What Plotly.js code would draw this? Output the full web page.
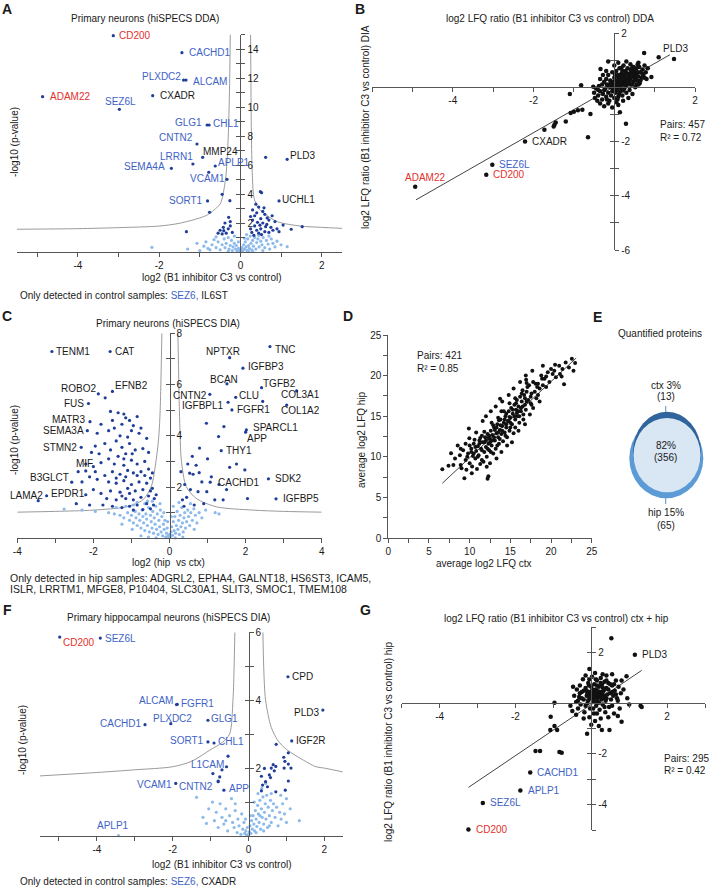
<!DOCTYPE html>
<html><head><meta charset="utf-8">
<script src="https://cdn.plot.ly/plotly-3.0.1.min.js"></script>
<style>html,body{margin:0;padding:0;background:#fff}#c{width:709px;height:888px}</style>
</head><body><div id="c"></div>
<script>
// ================= DATA =================
// ---- Panel A: Primary neurons (hiSPECS DDA) volcano ----
const A_xTicks = [-4,-2,0,2];
const A_xTickText = ['-4','-2','0','2'];
const A_xMinor = [-5,-3,-1,1];
const A_yTicks = [2,4,6,8,10,12,14];
const A_yTickText = ['2','4','6','8','10','12','14'];
const A_yMinor = [0,1,3,5,7,9,11,13,15];
const A_curveL = [[-5.5,1.57],[-4,1.61],[-3,1.68],[-2,1.79],[-1.5,1.98],[-1.0,2.35],[-0.82,2.55],[-0.65,2.9],[-0.49,3.36],[-0.37,4.97],[-0.33,6.2],[-0.3,8.0],[-0.27,11],[-0.25,15]];
const A_curveR = [[0.25,15],[0.26,11],[0.27,8.0],[0.29,5.5],[0.33,3.8],[0.42,3.1],[0.58,2.67],[0.91,2.09],[1.48,1.79],[2.0,1.7],[2.5,1.63]];
const A_sig = [[0.62,6.53],[-0.45,3.98],[-0.26,3.54],[-0.76,2.74],[-1.33,1.40],[0.49,4.16],[0.52,4.09],[1.05,1.86],[1.25,1.57],[1.52,1.75],[-0.29,2.39],[-0.25,2.10],[-0.41,1.47],[-0.33,5.01],
 [0.30,2.90],[0.35,2.50],[0.40,2.70],[0.45,3.10],[0.50,2.30],[0.55,2.00],[0.60,2.60],[0.65,1.90],[0.70,2.20],[0.75,1.70],[0.80,1.50],[0.35,1.80],[0.40,1.50],[0.45,1.30],[0.50,1.60],[0.30,2.20],[0.25,1.60],[0.60,1.40],[0.70,1.35],[0.85,2.10],[0.90,1.60],[0.55,2.80],[0.42,2.05],[0.62,1.75],[0.38,3.30],[0.28,1.35],[0.48,1.85],[0.66,2.35],[0.78,2.50],[0.95,1.40],[0.33,1.15],[0.52,1.20],[0.25,2.45],[0.58,3.05],
 [-0.35,1.30],[-0.30,1.60],[-0.20,1.35],[-0.45,1.25],[-0.25,1.80],[-0.50,1.50],[-0.38,2.00],[-0.42,1.70],[-0.55,1.30]];
const A_ns = [[-2.18,0.32],[-1.07,0.60],[1.15,0.37],[-1.30,0.20],[-0.90,0.40],[-0.80,0.25],[-0.70,0.50],[-0.60,0.30],[-0.55,0.70],[-0.50,0.15],[-0.45,0.50],[-0.40,0.90],[-0.38,0.30],[-0.35,0.60],[-0.30,1.00],[-0.28,0.20],[-0.25,0.45],[-0.22,0.80],[-0.20,0.10],[-0.18,0.35],[-0.15,0.60],[-0.12,0.20],[-0.10,0.45],[-0.08,0.05],[-0.05,0.25],[-0.03,0.10],[0.00,0.02],[0.02,0.15],[0.04,0.30],[0.06,0.08],[0.08,0.50],[0.10,0.20],[0.12,0.70],[0.14,0.35],[0.16,0.10],[0.18,0.90],[0.20,0.45],[0.22,0.25],[0.24,1.10],[0.26,0.60],[0.28,0.15],[0.30,0.80],[0.32,0.40],[0.35,1.00],[0.38,0.20],[0.40,0.65],[0.43,0.90],[0.46,0.35],[0.50,0.75],[0.53,0.50],[0.56,1.00],[0.60,0.30],[0.64,0.80],[0.68,0.55],[0.72,0.20],[0.76,0.90],[0.80,0.60],[0.85,0.35],[0.90,0.75],[1.00,0.50],[-0.65,0.85],[-0.75,0.15],[-1.00,0.10],[-0.60,1.05],[0.10,0.95],[-0.05,0.70],[0.30,0.05],[0.15,1.20],[-0.15,1.10],[0.45,1.15],[0.20,0.05],[-0.30,0.05],[0.55,0.10],[0.70,1.10],[-0.85,0.70]];
const A_names = ['CD200','CACHD1','PLXDC2','ALCAM','CXADR','ADAM22','SEZ6L','GLG1','CHL1','CNTN2','MMP24','LRRN1','APLP1','SEMA4A','VCAM1','SORT1','PLD3','UCHL1'];
const A_labPts = [[-3.13,14.92],[-1.44,13.75],[-1.40,11.86],[-1.34,11.86],[-2.16,10.78],[-4.87,10.71],[-2.98,9.84],[-0.82,8.76],[-0.77,8.76],[-1.07,7.45],[-0.93,6.53],[-1.17,6.07],[-0.62,5.93],[-1.70,5.77],[-0.78,5.50],[-0.81,3.52],[1.15,6.39],[0.95,3.52]];
const A_labCol = ['red','blue','blue','blue','black','red','blue','blue','blue','blue','black','blue','blue','blue','blue','blue','black','black'];
const A_labOff = [[4,0,'left'],[5,0,'left'],[-1,4,'right'],[5,-1,'left'],[5,0,'left'],[5,0,'left'],[1,8,'center'],[-3,2,'right'],[2,1,'left'],[-2,6,'right'],[-2,6,'left'],[2,7,'right'],[1,4,'left'],[-4,2,'right'],[-1,-6,'center'],[-3,0,'right'],[1,4,'left'],[1,1,'left']];

// ---- Panel B: DDA vs DIA ratio scatter ----
const B_xTicks = [-4,-2,2];
const B_xTickText = ['-4','-2','2'];
const B_xMinor = [-6,-5,-3,-1,1];
const B_yTicks = [-6,-4,-2,2];
const B_yTickText = ['-6','-4','-2','2'];
const B_yMinor = [-5,-3,-1,1];
const B_fit = [[-4.91,-4.15],[1.38,1.20]];
const B_pts = [[-1.10,-0.25],[-0.82,0.07],[-0.34,0.67],[0.74,1.26],[1.10,1.11],[0.92,0.38],[0.14,-0.92],[0.29,-1.35],[-0.65,-1.84],[-0.59,-0.99],[-0.79,-0.83],[-0.90,-0.85],[-1.00,-0.90],[-1.08,-0.95],[-1.20,-1.26],[-1.45,-1.30],[-1.50,-1.45],[-1.48,-1.38],[-1.73,-1.57],[-0.15,0.95],[0.45,0.75],[0.60,0.90],
 [-0.50,-0.20],[-0.45,-0.05],[-0.40,-0.30],[-0.38,0.05],[-0.35,-0.15],[-0.30,-0.45],[-0.30,0.10],[-0.28,-0.25],[-0.25,0.20],[-0.22,-0.05],[-0.20,-0.35],[-0.20,0.30],[-0.18,0.10],[-0.15,-0.20],[-0.15,0.45],[-0.12,-0.50],[-0.10,0.00],[-0.10,0.25],[-0.08,-0.30],[-0.05,0.15],[-0.05,0.55],[-0.03,-0.10],[0.00,0.35],[0.00,-0.40],[0.02,0.05],[0.03,-0.20],[0.05,0.25],[0.05,0.60],[0.07,-0.05],[0.08,0.40],[0.10,0.10],[0.10,-0.35],[0.12,0.30],[0.13,0.70],[0.15,0.00],[0.15,-0.15],[0.17,0.20],[0.18,0.50],[0.20,-0.30],[0.20,0.35],[0.22,0.10],[0.23,0.80],[0.25,-0.05],[0.25,0.45],[0.27,0.25],[0.28,0.60],[0.30,0.05],[0.30,-0.20],[0.32,0.35],[0.33,0.70],[0.35,0.15],[0.36,0.50],[0.38,-0.10],[0.40,0.30],[0.40,0.85],[0.42,0.55],[0.44,0.10],[0.45,0.40],[0.47,0.65],[0.48,0.20],[0.50,0.50],[0.52,0.00],[0.53,0.35],[0.55,0.70],[0.57,0.25],[0.58,0.55],[0.60,0.40],[0.62,0.75],[0.63,0.15],[0.65,0.55],[0.68,0.35],[0.70,0.65],[0.72,0.45],[0.75,0.80],[0.78,0.55],[0.80,0.30],[0.83,0.70],[-0.42,-0.50],[-0.35,-0.60],[-0.25,-0.70],[-0.15,-0.60],[-0.05,-0.75],[0.05,-0.55],[0.10,-0.65],[0.22,-0.50],[-0.52,0.02],[-0.48,-0.40],[0.35,-0.40],[0.45,-0.25],[0.55,0.10],[-0.20,0.60],[0.00,0.80],[0.10,0.90],[0.30,0.95],[0.15,0.05],[0.18,-0.05],[0.08,0.15],[0.12,0.22],[0.20,0.18],[0.25,0.12],[0.05,0.08],[-0.02,0.20],[0.28,0.30],[0.35,0.28],[0.16,0.38],[-0.08,0.05],[0.22,-0.12],[0.40,0.10],
 [0.00,0.00],[0.05,-0.12],[0.10,0.45],[0.15,0.28],[0.20,0.60],[0.25,0.35],[0.30,0.52],[0.35,0.40],[0.40,0.65],[0.45,0.55],[0.50,0.30],[0.55,0.45],[-0.10,0.12],[-0.15,0.05],[-0.25,-0.10],[-0.05,-0.15],[0.12,-0.25],[0.28,0.10],[0.38,0.22],[0.48,0.75],[0.58,0.85],[0.65,0.25],[-0.35,0.30],[-0.40,-0.10],[0.02,0.45],[0.18,0.72],[0.33,0.15],[0.43,0.48],[0.53,0.60],[0.60,0.10],[-0.18,-0.45],[0.70,0.50],[0.75,0.35],[0.08,-0.45],[-0.28,0.45]];
const B_names = ['PLD3','ADAM22','SEZ6L','CD200','CXADR'];
const B_labPts = [[1.48,1.04],[-4.93,-3.67],[-3.02,-2.86],[-3.17,-3.23],[-2.21,-2.00]];
const B_labCol = ['black','red','blue','red','black'];
const B_labOff = [[1,11,'center'],[10,9,'center'],[5,0,'left'],[5,0,'left'],[5,0,'left']];

// ---- Panel C: Primary neurons (hiSPECS DIA) hip vs ctx volcano ----
const C_xTicks = [-4,-2,0,2,4];
const C_xTickText = ['-4','-2','0','2','4'];
const C_xMinor = [-3,-1,1,3];
const C_yTicks = [2,4,6,8];
const C_yTickText = ['2','4','6','8'];
const C_yMinor = [0,1,3,5,7];
const C_curveL = [[-4,1.02],[-3,1.05],[-2,1.1],[-1.14,1.23],[-0.7,1.5],[-0.48,2.02],[-0.35,3.06],[-0.28,4.0],[-0.245,5.0],[-0.22,6.5],[-0.2,8]];
const C_curveR = [[0.22,8],[0.24,6.5],[0.26,5],[0.28,4],[0.31,3.06],[0.44,2.02],[0.7,1.56],[1.23,1.23],[2.2,1.1],[3,1.05],[4,1.02]];
const C_sig = [[-1.69,5.48],[-1.55,4.95],[-1.35,4.90],[-1.20,4.85],[-1.15,4.70],[-1.05,4.60],[-0.85,4.75],[-0.95,4.40],[-1.25,4.45],[-1.45,4.30],[-1.60,4.20],[-1.80,4.45],[-1.90,4.10],[-1.00,4.20],[-0.80,4.10],[-1.30,4.00],[-1.10,3.95],[-1.40,3.80],[-1.70,3.70],[-1.95,3.60],[-2.05,3.35],[-1.85,3.30],[-1.55,3.45],[-1.25,3.55],[-1.05,3.70],[-0.90,3.45],[-0.70,3.50],[-1.15,3.30],[-1.35,3.20],[-1.60,3.10],[-1.80,2.95],[-2.00,2.80],[-1.45,2.90],[-1.20,2.85],[-1.00,3.05],[-0.85,2.90],[-0.65,3.00],[-0.55,2.70],[-0.75,2.60],[-0.95,2.55],[-1.10,2.65],[-1.30,2.50],[-1.50,2.60],[-1.70,2.45],[-1.90,2.30],[-2.10,2.40],[-2.30,2.20],[-1.60,2.20],[-1.40,2.15],[-1.20,2.25],[-1.00,2.10],[-0.80,2.20],[-0.60,2.15],[-0.50,2.35],[-0.45,1.95],[-0.70,1.90],[-0.90,1.85],[-1.10,1.95],[-1.30,1.80],[-1.55,1.85],[-1.80,1.75],[-2.00,1.90],[-2.20,1.70],[-1.65,1.55],[-1.40,1.50],[-1.15,1.55],[-0.95,1.50],[-0.75,1.60],[-0.55,1.65],[-0.40,1.55],[-0.42,1.30],[-0.60,1.35],[-0.85,1.30],[-1.05,1.25],[-1.25,1.20],[-1.50,1.25],[-2.10,1.30],[-2.45,1.35],[-1.75,1.30],[-0.50,1.15],[-0.70,1.12],[-0.95,1.10],[-1.20,3.10],[-0.98,3.30],[-0.60,3.90],[-0.55,3.35],[-1.50,4.60],[-0.75,4.30],[-2.20,2.90],[-2.40,2.60],[-1.15,2.40],[-0.85,2.45],[-1.40,2.35],[-0.65,2.45],[-1.95,2.60],[-1.25,1.65],[-1.05,1.75],[-0.50,1.85],[-0.45,2.55],[-0.35,1.70],
 [2.45,5.34],[0.97,4.49],[1.43,4.36],[1.29,3.97],[0.79,3.52],[0.53,2.54],[0.62,2.50],[0.78,2.56],[1.58,2.77],[1.76,2.90],[1.98,2.67],[0.75,1.82],[0.98,1.82],[1.19,1.50],[1.41,1.50],[0.34,1.50],[0.45,1.60],[0.55,1.90],[0.40,2.10],[0.30,2.60],[0.85,2.20],[1.10,2.40],[0.65,1.30],[0.90,1.35],[0.38,1.25],[1.30,2.10],[0.60,3.20],[1.00,3.10],[0.48,2.90],[1.50,1.90],[2.05,1.55],[0.70,2.85]];
const C_ns = [[-2.77,1.14],[-1.95,1.05],[-1.60,1.00],[-1.45,0.95],[-1.30,0.90],[-1.20,0.80],[-1.10,1.00],[-1.05,0.70],[-1.00,0.90],[-0.95,0.60],[-0.90,1.05],[-0.88,0.80],[-0.85,0.50],[-0.80,0.95],[-0.78,0.70],[-0.75,0.40],[-0.72,1.10],[-0.70,0.85],[-0.68,0.60],[-0.65,0.30],[-0.62,0.95],[-0.60,0.75],[-0.58,0.50],[-0.55,1.20],[-0.53,0.25],[-0.50,0.90],[-0.48,0.65],[-0.46,0.40],[-0.44,1.05],[-0.42,0.20],[-0.40,0.80],[-0.38,0.55],[-0.36,1.25],[-0.34,0.35],[-0.32,0.95],[-0.30,0.15],[-0.28,0.70],[-0.26,0.45],[-0.24,1.10],[-0.22,0.25],[-0.20,0.85],[-0.18,0.10],[-0.16,0.55],[-0.14,0.35],[-0.12,0.70],[-0.10,0.05],[-0.08,0.20],[-0.06,0.40],[-0.04,0.10],[-0.02,0.03],[0.00,0.15],[0.02,0.05],[0.04,0.25],[0.06,0.45],[0.08,0.12],[0.10,0.65],[0.12,0.30],[0.14,0.85],[0.16,0.20],[0.18,0.50],[0.20,1.05],[0.22,0.35],[0.24,0.70],[0.26,0.15],[0.28,0.90],[0.30,0.45],[0.32,1.20],[0.34,0.60],[0.36,0.25],[0.38,0.80],[0.40,1.00],[0.42,0.40],[0.45,0.65],[0.48,1.10],[0.50,0.85],[0.53,0.50],[0.56,1.00],[0.60,0.70],[0.64,1.15],[0.68,0.90],[0.72,0.60],[0.78,1.00],[0.85,0.80],[0.95,1.10],[1.20,1.00],[1.30,0.95],[-1.40,1.20],[-1.15,1.25],[-0.95,1.30],[-0.65,1.35],[-0.45,1.45],[0.55,1.35],[0.25,1.40],[-0.25,1.35],[-0.55,0.05],[-0.75,0.10],[-0.35,0.02],[0.15,0.02],[0.35,0.05],[-0.85,1.40],[-2.30,1.10],[-0.98,0.35],[0.65,0.35],[-1.25,0.55],[-0.58,1.45],[0.10,1.25],[-0.15,1.00],[-0.05,0.65],[0.05,0.85]];
const C_names = ['TENM1','CAT','ROBO2','EFNB2','FUS','MATR3','SEMA3A','STMN2','MIF','B3GLCT','EPDR1','LAMA2','NPTXR','TNC','IGFBP3','BCAN','TGFB2','COL3A1','COL1A2','CNTN2','CLU','IGFBPL1','FGFR1','SPARCL1','APP','THY1','CACHD1','SDK2','IGFBP5'];
const C_labPts = [[-3.09,7.29],[-1.56,7.29],[-1.87,5.64],[-1.50,5.73],[-2.13,5.26],[-2.09,4.55],[-2.16,4.20],[-2.32,3.55],[-2.20,2.63],[-2.57,2.19],[-3.23,1.66],[-3.45,1.47],[1.58,7.05],[2.64,7.48],[1.93,6.64],[1.51,6.03],[2.42,5.88],[3.34,5.75],[3.08,5.20],[1.06,5.62],[1.74,5.50],[1.54,5.31],[1.64,5.01],[2.02,4.23],[2.00,4.14],[1.36,3.42],[1.07,2.19],[2.60,2.32],[2.80,1.54]];
const C_labOff = [[2,0,'left'],[3,0,'left'],[0,5,'right'],[1,6,'left'],[-2,0,'right'],[-2,2,'right'],[-1,0,'right'],[-2,0,'right'],[-1,7,'center'],[-1,5,'right'],[2,2,'left'],[7,5,'right'],[-7,6,'center'],[3,-3,'left'],[3,2,'left'],[-3,4,'center'],[-1,4,'left'],[4,-4,'center'],[14,-5,'center'],[-1,-1,'right'],[1,2,'left'],[-2,-3,'right'],[3,0,'left'],[5,2,'left'],[-1,-6,'left'],[3,0,'left'],[6,0,'left'],[5,0,'left'],[5,0,'left']];

// ---- Panel D: average log2 LFQ hip vs ctx ----
const D_ticks = [0,5,10,15,20,25];
const D_tickText = ['0','5','10','15','20','25'];
const D_minor = [2.5,7.5,12.5,17.5,22.5];
const D_fit = [[6.64,6.74],[23.09,22.16]];
const D_pts = [[6.64,8.47],[7.71,10.44],[8.53,11.38],[9.35,7.36],[10.26,7.97],[12.10,8.79],[13.74,17.14],[16.94,19.48],[17.0,19.1],[19.40,19.89],[20.50,21.33],[21.1,20.2],[21.3,19.9],[21.60,18.95],[22.56,22.07],[22.96,21.54],[22.76,20.59],[9.96,12.29],[8.90,9.00],
 [8.2,9.8],[8.8,10.2],[9.2,10.8],[9.5,9.6],[9.8,10.4],[10.0,9.2],[10.2,11.0],[10.4,10.1],[10.5,11.6],[10.7,9.8],[10.8,10.7],[11.0,11.3],[11.1,10.2],[11.2,12.0],[11.4,11.0],[11.5,9.6],[11.6,11.8],[11.8,10.6],[11.9,12.4],[12.0,11.2],[12.1,10.0],[12.2,12.8],[12.3,11.6],[12.4,10.8],[12.5,12.2],[12.6,13.2],[12.7,11.4],[12.8,12.7],[12.9,10.4],[13.0,13.6],[13.1,12.0],[13.2,11.0],[13.3,12.9],[13.4,14.0],[13.5,12.4],[13.6,11.6],[13.7,13.3],[13.8,14.6],[13.9,12.8],[14.0,13.8],[14.1,11.9],[14.2,14.2],[14.3,13.0],[14.4,15.0],[14.5,13.6],[14.6,12.4],[14.7,14.4],[14.8,15.6],[14.9,13.2],[15.0,14.8],[15.1,16.0],[15.2,14.0],[15.3,15.3],[15.4,12.9],[15.5,16.4],[15.6,14.6],[15.7,15.8],[15.8,17.0],[15.9,15.0],[16.0,16.2],[16.1,14.2],[16.2,17.4],[16.3,15.6],[16.4,16.8],[16.5,18.2],[16.6,15.2],[16.7,17.6],[16.8,16.4],[17.0,18.0],[17.2,17.0],[17.3,18.8],[17.5,16.6],[17.6,17.8],[17.8,19.2],[18.0,18.0],[18.2,17.2],[18.4,19.0],[18.6,18.4],[18.8,20.0],[19.0,18.8],[19.2,19.6],[19.6,20.4],[19.8,19.2],[20.0,20.8],[20.2,20.2],[20.6,19.8],[21.0,21.2],[21.4,20.8],[22.2,21.0],
 [9.0,8.6],[9.6,8.4],[10.3,8.8],[10.9,8.5],[11.3,9.1],[11.7,9.4],[12.5,9.2],[12.2,7.3],[12.3,7.6],[13.3,9.8],[13.9,10.6],[14.6,11.4],[15.2,11.8],[16.0,13.2],[16.8,14.0],[17.4,15.2],[17.8,16.0],[18.6,16.8],[9.9,13.5],[10.8,13.0],[11.6,14.4],[12.0,15.0],[12.6,15.6],[13.2,16.2],[14.0,16.8],[14.8,17.6],[15.4,18.4],[16.2,19.2],[16.9,20.0],[17.7,20.6],[19.0,21.2],[14.5,15.3],[13.6,14.5],[12.9,13.9],[11.8,13.1],[14.9,16.6],[15.6,17.2],[13.1,13.3],[12.4,12.6],[11.3,12.3],[10.6,12.1],[9.5,11.6],[8.9,11.0],[8.0,9.0],[7.4,8.9],
 [10.5,10.4],[11.0,10.0],[11.5,10.8],[12.0,12.0],[12.5,11.8],[13.0,12.4],[13.5,13.0],[14.0,13.2],[14.5,14.0],[15.0,14.2],[15.5,15.0],[16.0,15.6],[16.5,16.2],[17.0,16.8],[17.5,17.4],[11.2,11.6],[11.8,11.8],[12.3,12.3],[12.8,12.0],[13.3,13.6],[13.8,13.9],[14.3,14.6],[14.8,14.4],[15.3,15.8],[15.8,15.4],[16.3,16.0],[16.8,17.2],[10.2,10.6],[10.7,11.2],[9.7,10.0],[13.5,14.8],[12.7,14.2],[14.2,15.6],[15.7,16.6],[16.4,17.8],[17.1,18.6],[18.1,19.0],[18.9,19.6],[12.6,10.6],[13.4,11.4],[14.4,12.6],[15.6,13.6],[16.6,14.6],[17.6,16.4],[18.4,17.6],[10.0,11.4],[11.5,12.6],[13.9,15.6],[15.0,13.6],[16.1,15.0],[12.2,11.0],[13.7,12.2],[14.9,14.9],[16.9,15.8],[19.4,18.6],[20.4,20.6],[21.8,21.6],[18.3,18.6]];

// ---- Panel E: Venn counts ----
const E_labels = ['ctx 3%','(13)','82%','(356)','hip 15%','(65)'];

// ---- Panel F: Primary hippocampal neurons (hiSPECS DIA) volcano ----
const F_xTicks = [-4,-2,0,2];
const F_xTickText = ['-4','-2','0','2'];
const F_xMinor = [-5,-3,-1,1];
const F_yTicks = [2,4,6];
const F_yTickText = ['2','4','6'];
const F_yMinor = [0,1,3,5];
const F_curveL = [[-5.5,1.77],[-4,1.87],[-3,1.95],[-2,2.04],[-1.5,2.2],[-1.02,2.53],[-0.7,2.75],[-0.5,3.0],[-0.41,4.0],[-0.38,5.0],[-0.36,6.0]];
const F_curveR = [[0.38,6.0],[0.40,5.0],[0.45,4.0],[0.6,3.2],[0.77,2.82],[1.0,2.55],[1.5,2.2],[1.78,2.04],[2.0,2.0],[2.48,1.89]];
const F_sig = [[0.42,1.99],[0.34,1.76],[0.37,1.50],[0.34,1.33],[0.55,1.80],[0.60,2.00],[0.68,1.92],[0.65,2.10],[0.72,2.05],[0.58,1.72],[0.50,1.45],[0.72,1.30],[0.97,1.35],[1.05,1.62],[0.94,2.00],[1.05,2.12],[1.12,2.00],[0.93,2.32],[0.96,2.20],[0.73,2.70],[1.05,2.45],[-0.54,2.35],[-0.94,1.84],[-0.76,1.74],[-0.80,1.60],[-0.70,1.95],[0.45,1.60]];
const F_ns = [[-1.37,1.14],[-1.20,0.55],[-1.11,0.37],[-1.05,0.80],[-0.95,1.00],[-0.90,0.45],[-0.85,0.70],[-0.80,0.25],[-0.75,0.95],[-0.70,0.55],[-0.65,0.35],[-0.60,0.80],[-0.55,0.15],[-0.50,0.60],[-0.45,1.10],[-0.42,0.40],[-0.38,0.25],[-0.35,0.75],[-0.30,0.10],[-0.28,0.50],[-0.25,0.30],[-0.20,0.05],[-0.18,0.65],[-0.15,0.20],[-0.12,0.40],[-0.10,0.08],[-0.07,0.15],[-0.05,0.03],[-0.03,0.25],[0.00,0.05],[0.02,0.12],[0.04,0.30],[0.06,0.08],[0.08,0.45],[0.10,0.20],[0.12,0.60],[0.14,0.35],[0.16,0.15],[0.18,0.75],[0.20,0.50],[0.22,0.28],[0.24,0.90],[0.26,0.65],[0.28,0.40],[0.30,1.05],[0.32,0.20],[0.34,0.80],[0.36,0.55],[0.38,1.15],[0.40,0.35],[0.42,0.70],[0.44,0.95],[0.46,0.50],[0.48,1.20],[0.50,0.25],[0.52,0.85],[0.55,0.60],[0.58,1.05],[0.60,0.40],[0.63,0.75],[0.66,0.95],[0.70,0.55],[0.74,0.85],[0.78,0.30],[0.82,0.70],[0.86,0.50],[0.90,0.95],[0.95,0.65],[1.00,0.40],[1.10,0.80],[1.34,0.45],[0.15,1.00],[0.25,1.25],[0.05,0.60],[-0.08,0.50],[0.20,0.10],[0.30,0.60],[0.40,0.15],[0.55,0.30],[-0.60,0.45],[-0.35,0.95],[0.35,1.40],[0.45,1.55],[0.60,1.25],[0.85,1.20],[1.00,1.10]];
const F_names = ['CD200','SEZ6L','CPD','ALCAM','FGFR1','PLXDC2','CACHD1','GLG1','PLD3','SORT1','CHL1','IGF2R','L1CAM','VCAM1','CNTN2','APP','APLP1'];
const F_labPts = [[-4.98,5.86],[-3.91,5.83],[1.04,4.69],[-1.90,3.87],[-1.88,3.88],[-2.05,3.31],[-2.73,3.28],[-1.07,3.41],[1.96,3.71],[-1.07,2.77],[-0.91,2.74],[1.14,2.80],[-0.58,2.04],[-1.92,1.55],[-0.80,1.62],[-0.65,1.35],[-3.43,0.01]];
const F_labCol = ['red','blue','black','blue','blue','blue','blue','blue','black','blue','blue','black','blue','blue','blue','blue','blue'];
const F_labOff = [[1,-5,'left'],[3,0,'left'],[2,0,'left'],[-1,4,'right'],[2,1,'left'],[2,5,'center'],[-1,1,'right'],[1,2,'left'],[-2,-2,'right'],[-2,1,'right'],[2,1,'left'],[2,0,'left'],[-1,2,'right'],[-2,-1,'right'],[-3,-5,'right'],[3,2,'left'],[-5,10,'center']];
const F_labLight = [false,false,false,false,false,false,false,false,false,false,false,false,false,false,false,false,true];

// ---- Panel G: ctx+hip vs hip ratio scatter ----
const G_xTicks = [-4,-2,2];
const G_xTickText = ['-4','-2','2'];
const G_xMinor = [-5,-3,-1,1,3];
const G_yTicks = [-4,-2,2];
const G_yTickText = ['-4','-2','2'];
const G_yMinor = [-5,-3,-1,1,3];
const G_fit = [[-3.24,-3.32],[1.33,1.30]];
const G_pts = [[-1.47,-1.88],[-1.35,-1.88],[-0.84,-1.92],[-0.78,-1.95],[-1.08,-1.05],[-0.97,-0.90],[-0.90,-1.05],[-1.07,-0.53],[-0.97,0.02],[1.30,-0.10],[1.33,-0.15],[0.93,1.07],[0.80,-0.73],[0.28,-1.05],[0.48,-1.05],[-0.11,-1.20],[0.53,2.57],[-0.05,1.35],[0.55,1.15],[0.40,1.10],[0.85,0.55],[1.00,-0.05],[0.95,0.20],[0.70,-0.50],[-0.40,-0.45],[-0.55,-0.10],[0.20,-0.90],[0.00,-0.85],
 [-0.45,0.30],[-0.40,0.05],[-0.38,0.55],[-0.35,-0.20],[-0.32,0.25],[-0.30,0.70],[-0.28,-0.05],[-0.25,0.45],[-0.22,0.95],[-0.20,0.15],[-0.18,-0.35],[-0.15,0.60],[-0.12,0.30],[-0.10,0.00],[-0.08,0.80],[-0.05,0.45],[-0.03,-0.20],[0.00,0.20],[0.00,0.65],[0.02,1.05],[0.04,0.05],[0.05,0.40],[0.07,-0.40],[0.08,0.75],[0.10,0.25],[0.12,0.55],[0.13,-0.10],[0.15,0.90],[0.17,0.35],[0.18,0.05],[0.20,0.65],[0.22,-0.25],[0.24,0.45],[0.25,1.00],[0.27,0.15],[0.28,0.75],[0.30,-0.05],[0.32,0.50],[0.34,0.30],[0.35,0.85],[0.37,-0.35],[0.38,0.10],[0.40,0.60],[0.42,0.35],[0.45,0.80],[0.47,-0.15],[0.50,0.40],[0.52,0.15],[0.55,0.70],[0.58,0.30],[0.60,-0.40],[0.62,0.50],[0.65,0.90],[0.68,0.20],[0.72,0.65],[0.75,-0.20],[0.78,0.40],[0.80,0.90],[-0.50,-0.30],[-0.48,0.65],[-0.20,-0.60],[-0.05,-0.55],[0.10,-0.70],[0.25,-0.60],[0.45,-0.55],[-0.15,1.10],[0.10,1.20],[0.30,1.15],[0.05,0.10],[0.08,0.35],[0.15,0.20],[0.18,0.48],[-0.02,0.30],[-0.08,0.12],[0.22,0.28],[0.12,0.05],[0.03,0.55],[0.28,0.38],[-0.12,0.50],[0.35,0.55],[0.20,0.02],[-0.25,0.20],[0.40,0.20],[-0.06,0.70],[0.15,0.70],[0.30,0.62],
 [0.00,0.40],[0.05,0.25],[0.10,0.50],[0.15,0.45],[0.20,0.30],[0.25,0.25],[-0.05,0.25],[-0.10,0.40],[0.30,0.45],[0.35,0.20],[0.45,0.55],[0.50,0.75],[-0.20,0.50],[-0.30,0.40],[0.25,0.80],[0.12,0.95],[-0.05,0.95],[0.40,0.90],[0.55,0.45],[0.65,0.35],[0.60,0.75],[-0.15,-0.10],[0.05,-0.20],[0.35,-0.15],[0.55,-0.10],[0.15,-0.40],[-0.35,0.10],[0.70,0.10]];
const G_names = ['PLD3','CACHD1','APLP1','SEZ6L','CD200'];
const G_labPts = [[1.15,1.92],[-1.61,-2.73],[-1.87,-3.44],[-2.86,-3.93],[-3.24,-4.98]];
const G_labCol = ['black','blue','blue','blue','red'];
const G_labOff = [[5,0,'left'],[5,0,'left'],[6,0,'left'],[5,0,'left'],[6,0,'left']];

// ================= RENDER =================
const W = 709, H = 888;
const FONT = 'Liberation Sans, Arial, Helvetica, sans-serif';
const COL = {red:'#E3302B', blue:'#3E63C6', black:'#1a1a1a'};
const DARK = '#1F3E9A', LIGHT = '#8DBAEA', AXC = '#555';
const P = x => x / W;
const Q = y => 1 - y / H;
const xs = a => a.map(p => p[0]);
const ys = a => a.map(p => p[1]);
const zeroPos = (dom, rng) => dom[0] + (0 - rng[0]) / (rng[1] - rng[0]) * (dom[1] - dom[0]);

const traces = [];
function line(arr, xa, ya, color, width, spline) {
  traces.push({type:'scatter', mode:'lines', x:xs(arr), y:ys(arr), xaxis:xa, yaxis:ya,
    line:{color, width, shape: spline ? 'spline' : 'linear', smoothing: 0.8}, hoverinfo:'skip', showlegend:false});
}
function pts(arr, xa, ya, color, size) {
  traces.push({type:'scatter', mode:'markers', x:xs(arr), y:ys(arr), xaxis:xa, yaxis:ya,
    marker:{color, size, line:{width:0}}, hoverinfo:'skip', showlegend:false, cliponaxis:false});
}
const anns = [];
function labels(names, p, cols, offs, xa, ya) {
  names.forEach((n, i) => anns.push({xref:xa, yref:ya, x:p[i][0], y:p[i][1], text:n, showarrow:false,
    xanchor:offs[i][2], yanchor:'middle', xshift:offs[i][0], yshift:offs[i][1],
    font:{family:FONT, size:10, color:COL[cols[i]]}}));
}
function T(text, x, y, o) {
  o = o || {};
  anns.push({xref:'paper', yref:'paper', x:P(x), y:Q(y), text, showarrow:false,
    xanchor:o.xa || 'center', yanchor:'middle', textangle:o.angle || 0,
    font:{family:FONT, size:o.size || 10, color:o.color || '#1a1a1a'}});
}

const baseAx = {showgrid:false, zeroline:false, showline:true, linecolor:AXC, linewidth:1,
  ticks:'outside', ticklen:4, tickcolor:AXC, tickwidth:1, tickfont:{family:FONT, size:10, color:'#1a1a1a'},
  fixedrange:true, tickmode:'array'};
const ax = (o, minorVals) => Object.assign({}, baseAx, o,
  {minor:{tickmode:'array', tickvals:minorVals, ticks:'outside', ticklen:4, tickcolor:AXC, tickwidth:1, showgrid:false}});
const tickOnly = (over, pos, rng, vals, minorVals) => ({overlaying:over, anchor:'free', position:pos, side:'right',
  range:rng, tickmode:'array', tickvals:vals, showticklabels:false, ticks:'inside', ticklen:4,
  tickcolor:AXC, showline:false, showgrid:false, zeroline:false, fixedrange:true,
  minor:{tickmode:'array', tickvals:minorVals, ticks:'inside', ticklen:4, tickcolor:AXC, tickwidth:1, showgrid:false}});

const layout = {width:W, height:H, margin:{l:0, r:0, t:0, b:0}, paper_bgcolor:'#fff', plot_bgcolor:'rgba(0,0,0,0)',
  showlegend:false, font:{family:FONT, size:10, color:'#1a1a1a'}};

// ---- A ----
const A_xd = [P(17), P(342)], A_xr = [-5.5, 2.5], A_yd = [Q(252), Q(34.5)], A_yr = [0, 15];
layout.xaxis = ax({domain:A_xd, range:A_xr, anchor:'y', tickvals:A_xTicks, ticktext:A_xTickText}, A_xMinor);
layout.yaxis = ax({domain:A_yd, range:A_yr, anchor:'free', position:zeroPos(A_xd, A_xr), side:'right', tickvals:A_yTicks, ticktext:A_yTickText}, A_yMinor);
layout.yaxis2 = tickOnly('y', zeroPos(A_xd, A_xr), A_yr, A_yTicks, A_yMinor);
traces.push({type:'scatter', x:[], y:[], xaxis:'x', yaxis:'y2', showlegend:false});
line(A_curveL, 'x', 'y', '#9a9a9a', 1, true);
line(A_curveR, 'x', 'y', '#9a9a9a', 1, true);
pts(A_ns, 'x', 'y', LIGHT, 3.2);
pts(A_sig, 'x', 'y', DARK, 3.2);
pts(A_labPts, 'x', 'y', DARK, 3.2);
labels(A_names, A_labPts, A_labCol, A_labOff, 'x', 'y');
T('<b>A</b>', 7, 9, {size:14});
T('Primary neurons (hiSPECS DDA)', 145, 18);
T('-log10 (p-value)', 14, 142, {angle:-90});
T('log2 (B1 inhibitor C3 vs control)', 212, 277);
T('Only detected in control samples: <span style="color:' + COL.blue + '">SEZ6,</span> IL6ST', 18, 295, {xa:'left'});

// ---- B ----
const B_xd = [P(372), P(695)], B_xr = [-6, 2], B_yd = [Q(250), Q(33)], B_yr = [-6, 2];
layout.xaxis2 = ax({domain:B_xd, range:B_xr, anchor:'free', position:zeroPos(B_yd, B_yr), tickvals:B_xTicks, ticktext:B_xTickText}, B_xMinor);
layout.yaxis3 = ax({domain:B_yd, range:B_yr, anchor:'free', position:zeroPos(B_xd, B_xr), side:'right', tickvals:B_yTicks, ticktext:B_yTickText}, B_yMinor);
layout.yaxis4 = tickOnly('y3', zeroPos(B_xd, B_xr), B_yr, B_yTicks, B_yMinor);
traces.push({type:'scatter', x:[], y:[], xaxis:'x2', yaxis:'y4', showlegend:false});
line(B_fit, 'x2', 'y3', '#444', 1, false);
pts(B_pts, 'x2', 'y3', '#111', 4.5);
pts(B_labPts, 'x2', 'y3', '#111', 4.5);
labels(B_names, B_labPts, B_labCol, B_labOff, 'x2', 'y3');
T('<b>B</b>', 360, 9, {size:14});
T('log2 LFQ ratio (B1 inhibitor C3 vs control) DDA', 550, 18);
T('log2 LFQ ratio (B1 inhibitor C3 vs control) DIA', 365, 127, {angle:-90});
T('Pairs: 457', 658, 124, {xa:'left'});
T('R\u00b2 = 0.72', 658, 137, {xa:'left'});

// ---- C ----
const C_xd = [P(17.3), P(321.7)], C_xr = [-4, 4], C_yd = [Q(538.3), Q(333.3)], C_yr = [0, 8];
layout.xaxis3 = ax({domain:C_xd, range:C_xr, anchor:'y5', tickvals:C_xTicks, ticktext:C_xTickText}, C_xMinor);
layout.yaxis5 = ax({domain:C_yd, range:C_yr, anchor:'free', position:zeroPos(C_xd, C_xr), side:'right', tickvals:C_yTicks, ticktext:C_yTickText}, C_yMinor);
layout.yaxis6 = tickOnly('y5', zeroPos(C_xd, C_xr), C_yr, C_yTicks, C_yMinor);
traces.push({type:'scatter', x:[], y:[], xaxis:'x3', yaxis:'y6', showlegend:false});
line(C_curveL, 'x3', 'y5', '#9a9a9a', 1, true);
line(C_curveR, 'x3', 'y5', '#9a9a9a', 1, true);
pts(C_ns, 'x3', 'y5', LIGHT, 3.2);
pts(C_sig, 'x3', 'y5', DARK, 3.2);
pts(C_labPts, 'x3', 'y5', DARK, 3.2);
labels(C_names, C_labPts, C_names.map(() => 'black'), C_labOff, 'x3', 'y5');
T('<b>C</b>', 7, 316, {size:14});
T('Primary neurons (hiSPECS DIA)', 168, 323);
T('-log10 (p-value)', 14, 440, {angle:-90});
T('log2 (hip\u00a0 vs ctx)', 168, 562);
T('Only detected in hip samples: ADGRL2, EPHA4, GALNT18, HS6ST3, ICAM5,', 8, 577.5, {xa:'left', size:10.5});
T('ISLR, LRRTM1, MFGE8, P10404, SLC30A1, SLIT3, SMOC1, TMEM108', 8, 589, {xa:'left', size:10.5});

// ---- D ----
const D_xd = [P(388.3), P(591.7)], D_yd = [Q(538), Q(335)];
layout.xaxis4 = ax({domain:D_xd, range:[0, 25], anchor:'y7', tickvals:D_ticks, ticktext:D_tickText}, D_minor);
layout.yaxis7 = ax({domain:D_yd, range:[0, 25], anchor:'x4', tickvals:D_ticks, ticktext:D_tickText}, D_minor);
line(D_fit, 'x4', 'y7', '#444', 1, false);
pts(D_pts, 'x4', 'y7', '#111', 4);
T('<b>D</b>', 348, 316, {size:14});
T('Pairs: 421', 415, 355, {xa:'left'});
T('R\u00b2 = 0.85', 415, 368, {xa:'left'});
T('average log2 LFQ ctx', 484, 563);
T('average log2 LFQ hip', 361, 440, {angle:-90});

// ---- E (Venn) ----
layout.shapes = [
  {type:'circle', xref:'paper', yref:'paper', x0:P(629.3), x1:P(703.3), y0:Q(498.3), y1:Q(418), fillcolor:'#5B9BD6', line:{width:0}},
  {type:'circle', xref:'paper', yref:'paper', x0:P(633), x1:P(701), y0:Q(491.7), y1:Q(411.7), fillcolor:'#2F659C', line:{width:0}},
  {type:'circle', xref:'paper', yref:'paper', x0:P(633.5), x1:P(700.5), y0:Q(492.2), y1:Q(418), fillcolor:'#D9E7F5', line:{width:0}},
  {type:'line', xref:'paper', yref:'paper', x0:P(665.7), x1:P(665.7), y0:Q(406), y1:Q(412), line:{color:'#5B8FC8', width:1}},
  {type:'line', xref:'paper', yref:'paper', x0:P(665.7), x1:P(665.7), y0:Q(498), y1:Q(504), line:{color:'#5B8FC8', width:1}}
];
T('<b>E</b>', 597, 317, {size:14});
T('Quantified proteins', 660, 333);
T(E_labels[0], 666, 385);
T(E_labels[1], 666, 396);
T(E_labels[2], 665.7, 445);
T(E_labels[3], 665.7, 458);
T(E_labels[4], 666, 512);
T(E_labels[5], 666, 525);

// ---- F ----
const F_xd = [P(40), P(343.3)], F_xr = [-5.5, 2.5], F_yd = [Q(836), Q(632.3)], F_yr = [0, 6];
layout.xaxis5 = ax({domain:F_xd, range:F_xr, anchor:'y8', tickvals:F_xTicks, ticktext:F_xTickText}, F_xMinor);
layout.yaxis8 = ax({domain:F_yd, range:F_yr, anchor:'free', position:zeroPos(F_xd, F_xr), side:'right', tickvals:F_yTicks, ticktext:F_yTickText}, F_yMinor);
layout.yaxis9 = tickOnly('y8', zeroPos(F_xd, F_xr), F_yr, F_yTicks, F_yMinor);
traces.push({type:'scatter', x:[], y:[], xaxis:'x5', yaxis:'y9', showlegend:false});
line(F_curveL, 'x5', 'y8', '#9a9a9a', 1, true);
line(F_curveR, 'x5', 'y8', '#9a9a9a', 1, true);
pts(F_ns, 'x5', 'y8', LIGHT, 3.2);
pts(F_sig, 'x5', 'y8', DARK, 3.2);
pts(F_labPts.filter((p, i) => !F_labLight[i]), 'x5', 'y8', DARK, 3.2);
pts(F_labPts.filter((p, i) => F_labLight[i]), 'x5', 'y8', LIGHT, 3.2);
labels(F_names, F_labPts, F_labCol, F_labOff, 'x5', 'y8');
T('<b>F</b>', 7, 610, {size:14});
T('Primary hippocampal neurons (hiSPECS DIA)', 168, 617);
T('-log10 (p-value)', 22, 740, {angle:-90});
T('log2 (B1 inhibitor C3 vs control)', 222, 864);
T('Only detected in control samples: <span style="color:' + COL.blue + '">SEZ6,</span> CXADR', 18, 881, {xa:'left'});

// ---- G ----
const G_xd = [P(401.7), P(705)], G_xr = [-5, 3], G_yd = [Q(830), Q(627.3)], G_yr = [-5, 3];
layout.xaxis6 = ax({domain:G_xd, range:G_xr, anchor:'free', position:zeroPos(G_yd, G_yr), tickvals:G_xTicks, ticktext:G_xTickText}, G_xMinor);
layout.yaxis10 = ax({domain:G_yd, range:G_yr, anchor:'free', position:zeroPos(G_xd, G_xr), side:'right', tickvals:G_yTicks, ticktext:G_yTickText}, G_yMinor);
layout.yaxis11 = tickOnly('y10', zeroPos(G_xd, G_xr), G_yr, G_yTicks, G_yMinor);
traces.push({type:'scatter', x:[], y:[], xaxis:'x6', yaxis:'y11', showlegend:false});
line(G_fit, 'x6', 'y10', '#444', 1, false);
pts(G_pts, 'x6', 'y10', '#111', 4.5);
pts(G_labPts, 'x6', 'y10', '#111', 4.5);
labels(G_names, G_labPts, G_labCol, G_labOff, 'x6', 'y10');
T('<b>G</b>', 365, 610, {size:14});
T('log2 LFQ ratio (B1 inhibitor C3 vs control) ctx + hip', 556, 618);
T('log2 LFQ ratio (B1 inhibitor C3 vs control) hip', 388, 742, {angle:-90});
T('Pairs: 295', 662, 758, {xa:'left'});
T('R\u00b2 = 0.42', 662, 770, {xa:'left'});

layout.annotations = anns;
Plotly.newPlot('c', traces, layout, {staticPlot:true, displayModeBar:false});
</script></body></html>
